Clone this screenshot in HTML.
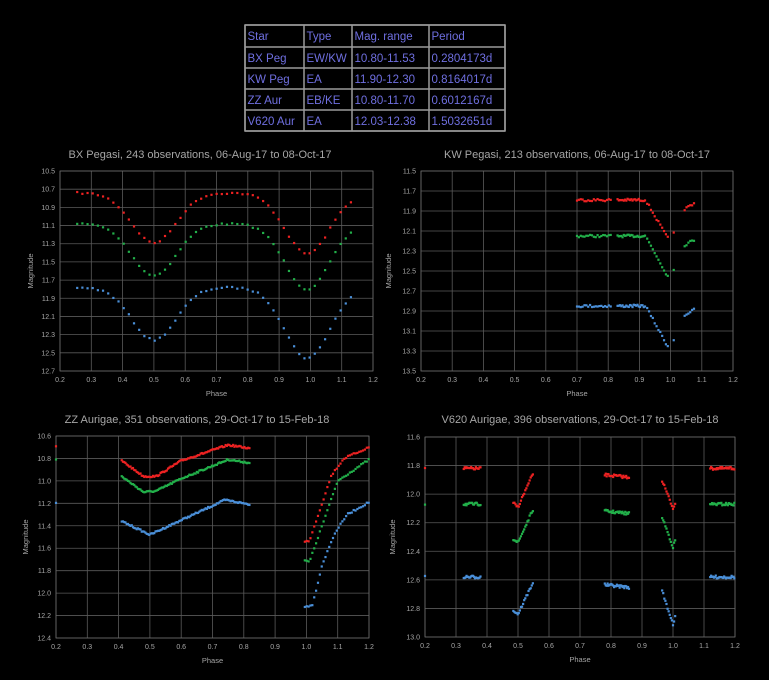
<!DOCTYPE html>
<html><head><meta charset="utf-8">
<style>
html,body{margin:0;padding:0;background:#000;width:769px;height:680px;overflow:hidden}
svg{display:block}
text{font-family:"Liberation Sans",sans-serif;fill:#a6a6a6}
</style></head>
<body>
<svg id="s" width="769" height="680" xmlns="http://www.w3.org/2000/svg">
<rect width="769" height="680" fill="#000"/>
</svg>
<script>
var S=document.getElementById('s'),NS='http://www.w3.org/2000/svg';
function el(t,a,txt){var e=document.createElementNS(NS,t);for(var k in a)e.setAttribute(k,a[k]);if(txt!==undefined)e.textContent=txt;S.appendChild(e);return e;}
var cols=[245,304,352,429,505],rows=[25,47,68,89,110,131];
var data=[["Star","Type","Mag. range","Period"],["BX Peg","EW/KW","10.80-11.53","0.2804173d"],["KW Peg","EA","11.90-12.30","0.8164017d"],["ZZ Aur","EB/KE","10.80-11.70","0.6012167d"],["V620 Aur","EA","12.03-12.38","1.5032651d"]];
el('rect',{x:245,y:25,width:260,height:106,fill:'#000',stroke:'#9a9a9a','stroke-width':1.5});
cols.forEach(function(c){el('line',{x1:c,y1:25,x2:c,y2:131,stroke:'#9a9a9a','stroke-width':1.5});});
rows.forEach(function(r){el('line',{x1:245,y1:r,x2:505,y2:r,stroke:'#9a9a9a','stroke-width':1.5});});
for(var i=0;i<5;i++)for(var j=0;j<4;j++){var t=el('text',{x:cols[j]+2.5,y:rows[i]+15,'font-size':11.5},data[i][j]);t.style.fill='#6f6fe0';}
var seed=7;function rnd(){seed=(seed*16807)%2147483647;return seed/2147483647;}
function interp(k,p){for(var i=0;i<k.length-1;i++){if(p>=k[i][0]&&p<=k[i+1][0]){var f=(p-k[i][0])/(k[i+1][0]-k[i][0]);return k[i][1]+f*(k[i+1][1]-k[i][1]);}}return k[k.length-1][1];}
function chart(o){
 var L=o.L,R=o.R,T=o.T,B=o.B;
 function X(p){return L+(p-0.2)/1.0*(R-L);}
 function Y(m){return T+(m-o.y0)/(o.y1-o.y0)*(B-T);}
 for(var v=0.2;v<=1.2001;v+=0.1){var x=X(v);el('line',{x1:x,y1:T,x2:x,y2:B,stroke:'#5a5a5a','stroke-width':0.8});
  el('text',{x:x,y:B+11,'font-size':7,'text-anchor':'middle'},v.toFixed(1));}
 for(var m=o.y0;m<=o.y1+0.001;m+=o.dy){var y=Y(m);el('line',{x1:L,y1:y,x2:R,y2:y,stroke:'#5a5a5a','stroke-width':0.8});
  el('text',{x:L-5,y:y+2.5,'font-size':7,'text-anchor':'end'},m.toFixed(1));}
 el('rect',{x:L,y:T,width:R-L,height:B-T,fill:'none',stroke:'#6a6a6a','stroke-width':0.8});
 el('text',{x:o.tx,y:o.ty,'font-size':11,'text-anchor':'middle'},o.title);
 el('text',{x:(L+R)/2,y:B+25,'font-size':7.5,'text-anchor':'middle'},'Phase');
 el('text',{x:0,y:0,'font-size':7.5,'text-anchor':'middle',transform:'translate('+o.ylx+','+((T+B)/2)+') rotate(-90)'},'Magnitude');
 var colors=['#ee2222','#22b04a','#4a8fd8'];
 o.series.forEach(function(s,si){
  s.segs.forEach(function(seg){
   for(var p=seg[0];p<=seg[1]+1e-9;p+=seg[2]){
    var m=interp(s.k,p)+(rnd()-0.5)*o.noise;
    el('rect',{x:X(p)-1.1,y:Y(m)-1.1,width:2.2,height:2.2,fill:colors[si]});
   }
  });
 });
}
function bx(off,a,b){var k=[];for(var p=0.25;p<=1.15;p+=0.01){var m=10.74+a*Math.exp(-Math.pow((p-0.5)/0.1,2))+b*Math.exp(-Math.pow((p-0.99)/0.1,2));k.push([p,m+off]);}return k;}
var bxs=[[0.255,1.135,0.0165]];
chart({L:60,R:373,T:171,B:371,y0:10.5,y1:12.7,dy:0.2,title:'BX Pegasi, 243 observations, 06-Aug-17 to 08-Oct-17',tx:200,ty:158,ylx:33,noise:0.02,
 series:[{k:bx(0,0.55,0.67),segs:bxs},{k:bx(0.34,0.57,0.72),segs:bxs},{k:bx(1.04,0.58,0.78),segs:bxs}]});
function kw(base,d){return [[0.69,base],[0.92,base],[0.99,base+d],[1.0,base+d],[1.01,base+d*0.85],[1.04,base+0.1],[1.08,base+0.03]];}
var kws=[[0.70,0.81,0.006],[0.83,0.92,0.004],[0.925,0.995,0.006],[1.01,1.012,0.01],[1.045,1.08,0.006]];
chart({L:421,R:733,T:171,B:371,y0:11.5,y1:13.5,dy:0.2,title:'KW Pegasi, 213 observations, 06-Aug-17 to 08-Oct-17',tx:577,ty:158,ylx:391,noise:0.025,
 series:[{k:kw(11.79,0.38),segs:kws},{k:kw(12.15,0.4),segs:kws},{k:kw(12.85,0.4),segs:kws}]});
var zzs=[[0.2,0.201,0.01],[0.41,0.82,0.004],[0.995,1.2,0.006]];
chart({L:56,R:369,T:436,B:638,y0:10.6,y1:12.4,dy:0.2,title:'ZZ Aurigae, 351 observations, 29-Oct-17 to 15-Feb-18',tx:197,ty:423,ylx:28,noise:0.015,
 series:[{k:[[0.2,10.69],[0.21,10.69],[0.41,10.82],[0.48,10.96],[0.52,10.96],[0.6,10.82],[0.75,10.68],[0.82,10.71],[0.99,11.55],[1.01,11.53],[1.05,11.2],[1.08,10.95],[1.12,10.8],[1.2,10.7]]},
  {k:[[0.2,10.81],[0.21,10.81],[0.41,10.96],[0.48,11.1],[0.52,11.09],[0.6,10.98],[0.75,10.81],[0.82,10.84],[0.99,11.71],[1.01,11.72],[1.05,11.4],[1.1,11.0],[1.2,10.81]]},
  {k:[[0.2,11.2],[0.21,11.2],[0.41,11.36],[0.5,11.48],[0.6,11.35],[0.74,11.17],[0.82,11.21],[0.99,12.13],[1.02,12.1],[1.05,11.75],[1.09,11.47],[1.13,11.3],[1.2,11.19]]}].map(function(s){s.segs=zzs;return s;})});
function v6(b,d1,d2){return [[0.2,b],[0.4,b],[0.485,b+d1*0.9],[0.5,b+d1],[0.55,b+0.03],[0.56,b],[0.965,b+d2*0.3],[1.0,b+d2],[1.01,b+d2*0.8],[1.02,b],[1.2,b]];}
var v6s=[[0.2,0.202,0.004],[0.325,0.38,0.003],[0.485,0.55,0.0035],[0.78,0.86,0.003],[0.965,1.008,0.0035],[1.12,1.2,0.003]];
chart({L:425,R:735,T:437,B:637,y0:11.6,y1:13.0,dy:0.2,title:'V620 Aurigae, 396 observations, 29-Oct-17 to 15-Feb-18',tx:580,ty:423,ylx:395,noise:0.02,
 series:[{k:v6(11.82,0.27,0.28),segs:v6s},{k:v6(12.07,0.27,0.3),segs:v6s},{k:v6(12.58,0.26,0.33),segs:v6s}]});
</script>
</body></html>
